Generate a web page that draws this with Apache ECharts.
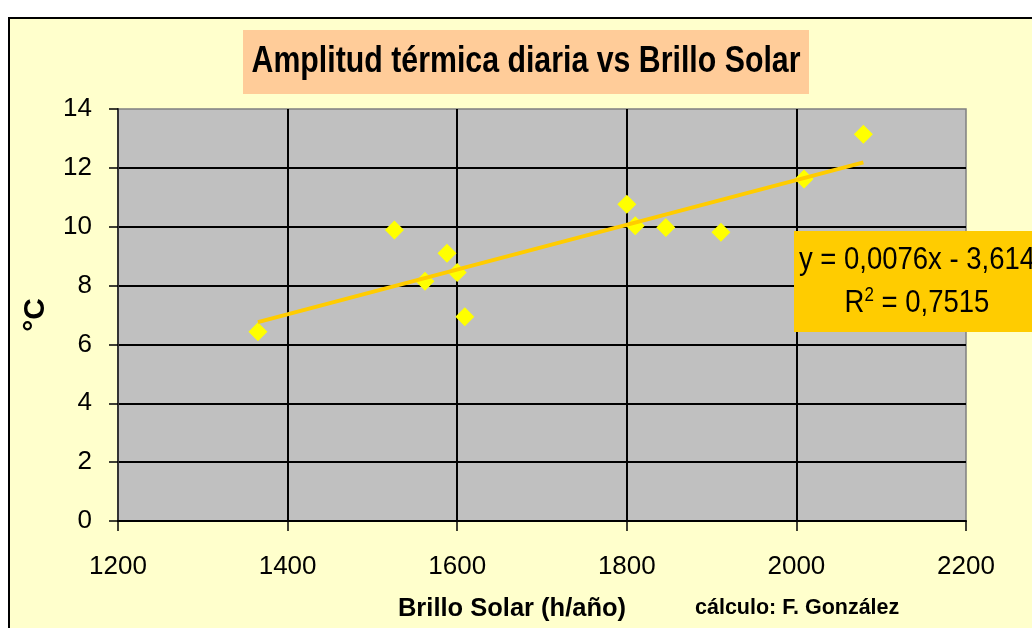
<!DOCTYPE html>
<html>
<head>
<meta charset="utf-8">
<title>Amplitud térmica diaria vs Brillo Solar</title>
<script src="https://cdn.jsdelivr.net/npm/echarts@6/dist/echarts.min.js"></script>
<style>
  html, body { margin: 0; padding: 0; background: #ffffff; }
  #wrap { position: relative; width: 1032px; height: 628px; overflow: hidden; background: #ffffff; }
  #frame { position: absolute; left: 8px; top: 17px; width: 1100px; height: 700px;
           background: #FFFFCC; border: 2px solid #000000; box-sizing: border-box; }
  #chart { position: absolute; left: 0; top: 0; width: 1032px; height: 628px; }
</style>
</head>
<body>
<div id="wrap">
  <div id="frame"></div>
  <div id="chart"></div>
</div>
<script>
// Sunshine hours per year (x) and mean daily temperature range in °C (y)
const brilloSolar = [1365, 1526, 1562, 1588, 1600, 1609, 1800, 1810, 1846, 1911, 2009, 2079];
const amplitud    = [6.43, 9.89, 8.15, 9.10, 8.44, 6.94, 10.76, 10.03, 9.97, 9.81, 11.62, 13.14];

// Axis ticks
const xTicks = [1200, 1400, 1600, 1800, 2000, 2200];
const yTicks = [0, 2, 4, 6, 8, 10, 12, 14];

// Linear trend line and its fit quality
const trendSlope = 0.0076;
const trendIntercept = -3.614;
const trendR2 = '0,7515';

const FONT = '"Liberation Sans", Arial, sans-serif';

const points = brilloSolar.map((x, i) => [x, amplitud[i]]);
const xMinData = Math.min(...brilloSolar);
const xMaxData = Math.max(...brilloSolar);
const trendLine = [xMinData, xMaxData].map(x => [x, trendSlope * x + trendIntercept]);

const fmt = v => String(v).replace('.', ',');
const eqText = 'y = ' + fmt(trendSlope) + 'x - ' + fmt(Math.abs(trendIntercept));

const chart = echarts.init(document.getElementById('chart'), null, { renderer: 'canvas' });

chart.setOption({
  backgroundColor: 'transparent',
  animation: false,
  grid: {
    left: 118,
    top: 109,
    right: 66,
    bottom: 107,
    containLabel: false,
    outerBoundsMode: 'none',
    show: true,
    backgroundColor: '#C0C0C0',
    borderColor: '#808080',
    borderWidth: 1.5
  },
  xAxis: {
    type: 'value',
    min: xTicks[0],
    max: xTicks[xTicks.length - 1],
    interval: xTicks[1] - xTicks[0],
    name: 'Brillo Solar (h/año)',
    nameLocation: 'middle',
    nameGap: 75,
    nameTextStyle: {
      fontFamily: FONT,
      fontSize: 25.5,
      fontWeight: 'bold',
      color: '#000000',
      padding: [0, 60, 0, 0]
    },
    axisLine: { show: true, onZero: false, lineStyle: { color: '#000000', width: 2 } },
    axisTick: { show: true, inside: false, length: 10, lineStyle: { color: '#000000', width: 1.5 } },
    axisLabel: {
      margin: 33,
      fontFamily: FONT,
      fontSize: 26,
      color: '#000000',
      formatter: v => String(v)
    },
    splitLine: { show: true, showMinLine: false, showMaxLine: false, lineStyle: { color: '#000000', width: 2 } }
  },
  yAxis: {
    type: 'value',
    min: yTicks[0],
    max: yTicks[yTicks.length - 1],
    interval: yTicks[1] - yTicks[0],
    name: '°C',
    nameLocation: 'middle',
    nameRotate: 90,
    nameGap: 67,
    nameTextStyle: {
      fontFamily: FONT,
      fontSize: 30,
      fontWeight: 'bold',
      color: '#000000'
    },
    axisLine: { show: true, onZero: false, lineStyle: { color: '#333333', width: 2 } },
    axisTick: { show: true, inside: false, length: 9, lineStyle: { color: '#000000', width: 1.5 } },
    axisLabel: {
      margin: 26,
      fontFamily: FONT,
      fontSize: 26,
      color: '#000000',
      formatter: v => String(v)
    },
    splitLine: { show: true, showMinLine: false, showMaxLine: false, lineStyle: { color: '#000000', width: 2 } }
  },
  series: [
    {
      name: 'Amplitud térmica',
      type: 'scatter',
      data: points,
      symbol: 'diamond',
      symbolSize: 19,
      itemStyle: { color: '#FFFF00', opacity: 1 },
      z: 2
    },
    {
      name: 'Tendencia lineal',
      type: 'line',
      data: trendLine,
      showSymbol: false,
      symbol: 'none',
      lineStyle: { color: '#FFCC00', width: 4, opacity: 1 },
      z: 3
    }
  ],
  graphic: [
    // Chart title on its peach panel
    {
      type: 'rect',
      z: 100,
      shape: { x: 243, y: 30, width: 566, height: 64 },
      style: { fill: '#FFCC99' }
    },
    {
      type: 'text',
      z: 101,
      x: 526,
      y: 62,
      scaleX: 1.01,
      scaleY: 1.22,
      style: {
        text: 'Amplitud térmica diaria vs Brillo Solar',
        fontFamily: FONT,
        fontSize: 30,
        fontWeight: 'bold',
        fill: '#000000',
        align: 'center',
        verticalAlign: 'middle'
      }
    },
    // Trend line equation box
    {
      type: 'rect',
      z: 100,
      shape: { x: 794, y: 231, width: 260, height: 101 },
      style: { fill: '#FFCC00' }
    },
    {
      type: 'text',
      z: 101,
      x: 917,
      y: 260,
      scaleY: 1.15,
      style: {
        text: eqText,
        fontFamily: FONT,
        fontSize: 27.5,
        fill: '#000000',
        align: 'center',
        verticalAlign: 'middle'
      }
    },
    {
      type: 'text',
      z: 101,
      x: 917,
      y: 303,
      scaleY: 1.15,
      style: {
        text: '{b|R}{s|2}{b| = ' + trendR2 + '}',
        fontFamily: FONT,
        align: 'center',
        verticalAlign: 'middle',
        rich: {
          b: { fontFamily: FONT, fontSize: 27.5, fill: '#000000', color: '#000000', lineHeight: 30 },
          s: { fontFamily: FONT, fontSize: 17, fill: '#000000', color: '#000000', verticalAlign: 'top', lineHeight: 30 }
        }
      }
    },
    {
      type: 'text',
      z: 100,
      x: 695,
      y: 608,
      style: {
        text: 'cálculo: F. González',
        fontFamily: FONT,
        fontSize: 21.5,
        fontWeight: 'bold',
        fill: '#000000',
        align: 'left',
        verticalAlign: 'middle'
      }
    }
  ]
});
</script>
</body>
</html>
